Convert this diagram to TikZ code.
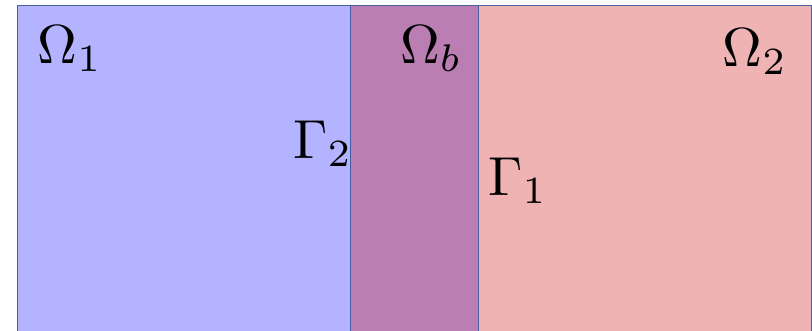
\documentclass[tikz,border=0pt]{standalone}
\usepackage{graphicx}
\definecolor{regA}{HTML}{B3B3FF}
\definecolor{regB}{HTML}{EFB3B3}
\definecolor{regM}{HTML}{BB7EB3}
\definecolor{edge}{HTML}{44609E}
\newcommand{\biglab}[1]{\scalebox{5.5}{$#1$}}
\begin{document}
\begin{tikzpicture}[x=1pt,y=1pt,
  region/.style={draw=edge, line width=0.9pt},
  lab/.style={inner sep=0pt}]
\useasboundingbox (0,0) rectangle (812,331);
\clip (0,0) rectangle (812,331);
\path[region, fill=regA] (17,-10) rectangle (350,326);
\path[region, fill=regB] (478,-10) rectangle (811,326);
\path[region, fill=regM] (350,-10) rectangle (478,326);
\node[lab] (o1) at (70,282) {\biglab{\Omega_1}};
\node[lab] (ob) at (431,282) {\biglab{\Omega_b}};
\node[lab] (o2) at (755,279) {\biglab{\Omega_2}};
\node[lab] (g2) at (323,187) {\biglab{\Gamma_2}};
\node[lab] (g1) at (518,150) {\biglab{\Gamma_1}};
\end{tikzpicture}
\end{document}
